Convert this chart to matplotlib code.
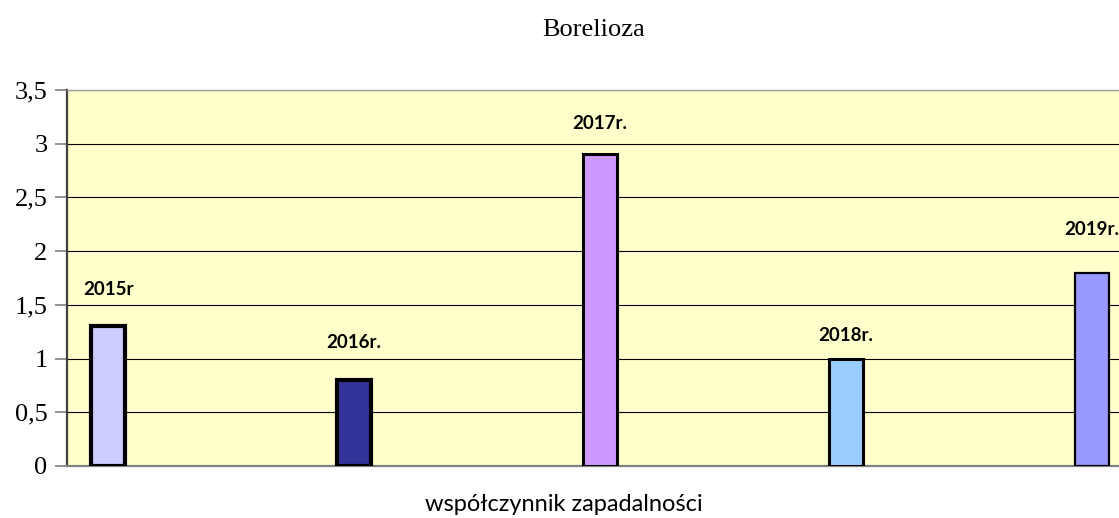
import matplotlib
matplotlib.use("Agg")
import matplotlib.pyplot as plt
import numpy as np

# data
years = ["2015r", "2016r.", "2017r.", "2018r.", "2019r."]
values = [1.3, 0.8, 2.9, 1.0, 1.8]
label_heights = [1.64, 1.15, 3.19, 1.21, 2.2]  # where the year labels sit
colors = ["#CCCCFF", "#333399", "#CC99FF", "#99CCFF", "#9999FF"]
edge_widths = [3.0, 3.0, 2.2, 2.2, 1.6]
yticks = [0, 0.5, 1, 1.5, 2, 2.5, 3, 3.5]
ytick_labels = ["0", "0,5", "1", "1,5", "2", "2,5", "3", "3,5"]

fig = plt.figure(figsize=(11.19, 5.18), dpi=100)
ax = fig.add_axes([0.0599, 0.1004, 0.9401, 0.7259])
ax.set_facecolor("#FFFFCC")

x = np.arange(len(values))
ax.bar(x, values, width=0.14, color=colors, edgecolor="black",
       linewidth=edge_widths, zorder=3)

for xi, h, lab in zip(x, label_heights, years):
    ax.text(xi, h, lab, ha="center", va="center", fontsize=13.5,
            fontweight="bold", family="Lato", clip_on=False)

ax.set_xlim(-0.167, 4.11)
ax.set_ylim(0, 3.5)
ax.set_yticks(yticks)
ax.set_yticklabels(ytick_labels, family="Liberation Serif", fontsize=19)
ax.set_xticks([])
ax.yaxis.grid(True, color="black", linewidth=0.8, zorder=1)
ax.set_axisbelow(True)
ax.tick_params(axis="y", length=9, width=1.2, color="#808080", pad=5)

ax.spines["right"].set_visible(False)
ax.spines["top"].set_color("#a0a0a0")
ax.spines["top"].set_linewidth(1.0)
ax.spines["left"].set_color("#404040")
ax.spines["left"].set_linewidth(1.6)
ax.spines["bottom"].set_color("#808080")
ax.spines["bottom"].set_linewidth(1.6)

fig.text(0.5305, 0.942, "Borelioza", ha="center", va="center",
         family="Liberation Serif", fontsize=19)
fig.text(0.504, 0.026, "współczynnik zapadalności", ha="center", va="center",
         family="Lato", fontsize=17)

fig.savefig("out.png", dpi=100)
